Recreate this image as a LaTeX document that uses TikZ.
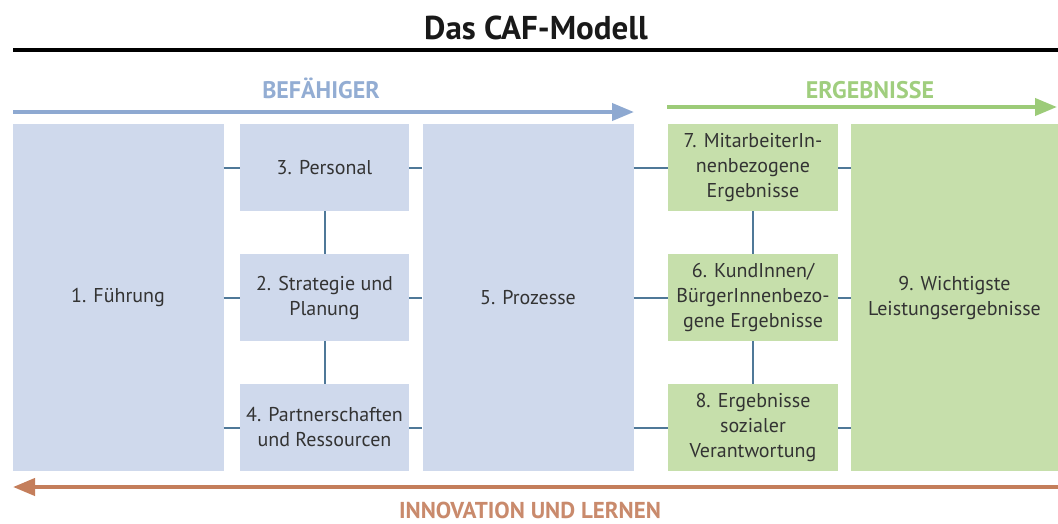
\documentclass[tikz,border=0pt]{standalone}
\usepackage{fontspec}
\setmainfont{PT Sans}
\usetikzlibrary{arrows.meta, positioning}
\definecolor{boxblue}{HTML}{CFD9EC}
\definecolor{boxgreen}{HTML}{C6DFAB}
\definecolor{linkblue}{HTML}{4F7898}
\definecolor{arrowblue}{HTML}{8EA9D1}
\definecolor{arrowgreen}{HTML}{9CCB78}
\definecolor{arroworange}{HTML}{C47E5B}
\definecolor{labelblue}{HTML}{93ADD3}
\definecolor{labelgreen}{HTML}{A0CE7E}
\definecolor{labelorange}{HTML}{C98A6C}
\definecolor{boxtext}{HTML}{333333}

\begin{document}
\begin{tikzpicture}[x=1pt, y=-1pt,
    crit/.style={align=center, text=boxtext, font=\fontsize{20}{25}\selectfont, inner sep=0pt},
    enabler/.style={crit, fill=boxblue},
    result/.style={crit, fill=boxgreen},
    smallbox/.style={minimum width=169pt, minimum height=87pt},
    tallbox/.style={minimum width=211pt, minimum height=347pt},
    link/.style={draw=linkblue, line width=2pt},
    flow/.style={line width=4pt, -{Triangle[length=22pt, width=17pt]}},
    flowlabel/.style={font=\fontsize{24}{28}\bfseries\selectfont, anchor=base}]
    \useasboundingbox (0,0) rectangle (1058,523);

    % title and rule
    \node[font=\fontsize{33}{36}\bfseries\selectfont, text=black!90, anchor=base] (titel) at (536,39) {Das CAF-Modell};
    \coordinate (ruleL) at (13,50);
    \coordinate (ruleR) at (1058,50);
    \draw[line width=3.5pt] (ruleL) -- (ruleR);

    % enablers
    \node[enabler, tallbox] (fuehrung) at (118,297.5) {1. Führung};
    \node[enabler, smallbox] (personal) at (324.5,167.5) {3. Personal};
    \node[enabler, smallbox] (strategie) at (324.5,297.5) {2. Strategie und\\Planung};
    \node[enabler, smallbox] (partner) at (324.5,427.5) {4. Partnerschaften\\und Ressourcen};
    \node[enabler, tallbox] (prozesse) at (528,297.5) {5. Prozesse};

    % results
    \node[result, smallbox, minimum width=170pt] (mitarbeiter) at (753,167.5) {7. MitarbeiterIn-\\nenbezogene\\Ergebnisse};
    \node[result, smallbox, minimum width=170pt] (kunden) at (753,297.5) {6. KundInnen/\\BürgerInnenbezo-\\gene Ergebnisse};
    \node[result, smallbox, minimum width=170pt] (sozial) at (753,427.5) {8. Ergebnisse\\sozialer\\Verantwortung};
    \node[result, tallbox, minimum width=207pt] (leistung) at (954.5,297.5) {9. Wichtigste\\Leistungsergebnisse};

    % links
    \foreach \mid/\res in {personal/mitarbeiter, strategie/kunden, partner/sozial} {
        \draw[link] (fuehrung.east |- \mid) -- (\mid.west);
        \draw[link] (\mid.east) -- (\mid -| prozesse.west);
        \draw[link] (prozesse.east |- \res) -- (\res.west);
        \draw[link] (\res.east) -- (\res -| leistung.west);
    }
    \draw[link] (personal) -- (strategie);
    \draw[link] (strategie) -- (partner);
    \draw[link] (mitarbeiter) -- (kunden);
    \draw[link] (kunden) -- (sozial);

    % flow arrows
    \coordinate (befL) at (13,112);
    \coordinate (befR) at (634,112);
    \coordinate (ergL) at (667,107);
    \coordinate (ergR) at (1057,107);
    \coordinate (innR) at (1058,487);
    \coordinate (innL) at (13,487);
    \draw[flow, arrowblue] (befL) -- (befR);
    \draw[flow, arrowgreen] (ergL) -- (ergR);
    \draw[flow, arroworange] (innR) -- (innL);
    \node[flowlabel, text=labelblue] (befaehiger) at (321,98) {BEFÄHIGER};
    \node[flowlabel, text=labelgreen] (ergebnisse) at (870,98) {ERGEBNISSE};
    \node[flowlabel, font=\fontsize{23}{26}\bfseries\selectfont, text=labelorange] (innovation) at (530,518) {INNOVATION UND LERNEN};
\end{tikzpicture}
\end{document}
